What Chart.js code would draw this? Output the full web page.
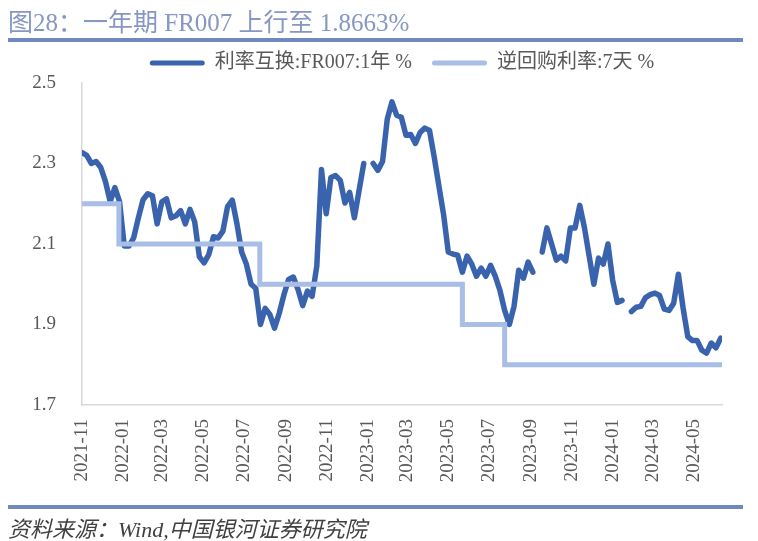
<!DOCTYPE html>
<html>
<head>
<meta charset="utf-8">
<script src="https://cdn.jsdelivr.net/npm/chart.js@4.4.1/dist/chart.umd.min.js"></script>
<style>
  html, body { margin: 0; padding: 0; background: #ffffff; }
  #wrap { position: relative; width: 758px; height: 541px; overflow: hidden; }
  #c { position: absolute; left: 0; top: 0; }
  .txt { position: absolute; white-space: nowrap; }
  #title { left: 8px; top: 2px; font-size: 25px; color: #8797C2; font-family: 'Liberation Serif', 'Noto Sans CJK SC', serif; }
  #footer { left: 8px; top: 511px; font-size: 22px; color: #404040; font-style: italic; font-family: 'Liberation Serif', 'Noto Sans CJK SC', serif; }
  .bar { position: absolute; left: 8px; width: 735px; height: 4px; background: #6F88BD; }
</style>
</head>
<body>
<div id="wrap">
  <canvas id="c" width="758" height="541" style="width:758px;height:541px"></canvas>
  <div id="title" class="txt">图28：一年期 FR007 上行至 1.8663%</div>
  <div class="bar" style="top:38px"></div>
  <div class="bar" style="top:505px"></div>
  <div id="footer" class="txt">资料来源：Wind,中国银河证券研究院</div>
</div>
<script>
// ---- data ----
const axisStart = '2021-11-23';
const axisEnd = '2024-07-04';
const tickLabels = ['2021-11','2022-01','2022-03','2022-05','2022-07','2022-09','2022-11','2023-01',
                    '2023-03','2023-05','2023-07','2023-09','2023-11','2024-01','2024-03','2024-05'];

// FR007 1Y swap, weekly readings starting at fr007Start (null = holiday gap)
const fr007Start = '2021-11-23';
const fr007StepDays = 7;
const fr007Values = [
  2.327, 2.320, 2.300, 2.305, 2.290, 2.255, 2.205, 2.240, 2.205, 2.095,
  2.095, 2.115, 2.165, 2.210, 2.225, 2.220, 2.150, 2.205, 2.212, 2.165,
  2.170, 2.183, 2.150, 2.186, 2.155, 2.068, 2.053, 2.074, 2.118, 2.115,
  2.132, 2.193, 2.209, 2.150, 2.080, 2.050, 2.000, 1.990, 1.900, 1.940,
  1.925, 1.891, 1.928, 1.974, 2.012, 2.018, 1.987, 1.947, 1.983, 1.970,
  2.045, 2.285, 2.175, 2.265, 2.270, 2.258, 2.202, 2.228, 2.165, 2.233,
  2.300, null,  2.300, 2.283, 2.305, 2.410, 2.453, 2.420, 2.415, 2.370,
  2.372, 2.350, 2.377, 2.388, 2.382, 2.316, 2.244, 2.173, 2.080, 2.075,
  2.072, 2.030, 2.070, 2.050, 2.020, 2.040, 2.020, 2.047, 2.020, 1.985,
  1.935, 1.900, 1.945, 2.035, 2.015, 2.055, 2.030, null,  2.080, 2.140,
  2.100, 2.060, 2.070, 2.058, 2.140, 2.140, 2.196, 2.140, 2.070, 2.000,
  2.065, 2.050, 2.100, 2.010, 1.955, 1.960, null,  1.932, 1.943, 1.945,
  1.967, 1.974, 1.978, 1.972, 1.938, 1.935, 1.953, 2.025, 1.941, 1.870,
  1.860, 1.860, 1.836, 1.829, 1.854, 1.842, 1.866
];

// 7-day reverse repo rate: change dates and rates
const repoDates = ['2021-11-23','2022-01-17','2022-08-15','2023-06-13','2023-08-15','2024-07-04'];
const repoRates = [2.2, 2.1, 2.0, 1.9, 1.8, 1.8];

const yTicks = [1.7, 1.9, 2.1, 2.3, 2.5];

// ---- helpers ----
const DAY = 86400000;
const toDay = (s) => { const p = s.split('-').map(Number); return Date.UTC(p[0], p[1]-1, p[2] || 1) / DAY; };
const d0 = toDay(axisStart);
const xMax = toDay(axisEnd) - d0;
const tickDays = tickLabels.map(l => toDay(l + '-23') - d0);
const frStart = toDay(fr007Start) - d0;
const frPoints = fr007Values.map((v, i) => ({ x: frStart + i * fr007StepDays, y: v }));
const repoPoints = repoDates.map((d, i) => ({ x: toDay(d) - d0, y: repoRates[i] }));

const FONT = "'Liberation Serif', 'Noto Sans CJK SC', serif";
const GREY = '#595959';
const DARK = '#3A63AE';
const LIGHT = '#A8BEE6';

new Chart(document.getElementById('c').getContext('2d'), {
  type: 'line',
  data: {
    datasets: [
      { label: '利率互换:FR007:1年 %', data: frPoints, borderColor: DARK, backgroundColor: DARK,
        borderWidth: 5.5, pointRadius: 0, tension: 0, spanGaps: false, order: 2,
        borderJoinStyle: 'round', borderCapStyle: 'round' },
      { label: '逆回购利率:7天 %', data: repoPoints, borderColor: LIGHT, backgroundColor: LIGHT,
        borderWidth: 5, pointRadius: 0, stepped: true, order: 1, borderJoinStyle: 'miter' }
    ]
  },
  options: {
    responsive: false,
    animation: false,
    devicePixelRatio: 1,
    layout: { padding: { left: 0, right: 36, top: 33, bottom: 0 } },
    plugins: {
      tooltip: { enabled: false },
      legend: {
        position: 'top',
        fullSize: false,
        labels: {
          boxWidth: 55, boxHeight: 5, padding: 20, color: GREY,
          font: { family: FONT, size: 20 },
          useBorderRadius: true, borderRadius: 2.5,
          sort: (a, b) => a.datasetIndex - b.datasetIndex,
          generateLabels: (chart) => Chart.defaults.plugins.legend.labels.generateLabels(chart)
            .map(l => Object.assign(l, { lineWidth: 0 }))
        }
      }
    },
    scales: {
      x: {
        type: 'linear', min: 0, max: xMax,
        grid: { display: false, drawTicks: false },
        border: { display: true, color: '#D9D9D9', width: 1.5 },
        afterBuildTicks: (s) => { s.ticks = tickDays.map(v => ({ value: v })); },
        afterFit: (s) => { s.height = 136; },
        ticks: {
          autoSkip: false, minRotation: 90, maxRotation: 90, padding: 14,
          color: GREY, font: { family: FONT, size: 19 },
          callback: (v) => { const i = tickDays.indexOf(v); return i >= 0 ? tickLabels[i] : ''; }
        }
      },
      y: {
        min: 1.7, max: 2.5,
        grid: { display: false, drawTicks: false },
        border: { display: true, color: '#D9D9D9', width: 1.5 },
        afterBuildTicks: (s) => { s.ticks = yTicks.map(v => ({ value: v })); },
        afterFit: (s) => { s.width = 82; },
        ticks: {
          padding: 26, color: GREY, font: { family: FONT, size: 19 },
          callback: (v) => Number(v).toFixed(1)
        }
      }
    }
  }
});
</script>
</body>
</html>
